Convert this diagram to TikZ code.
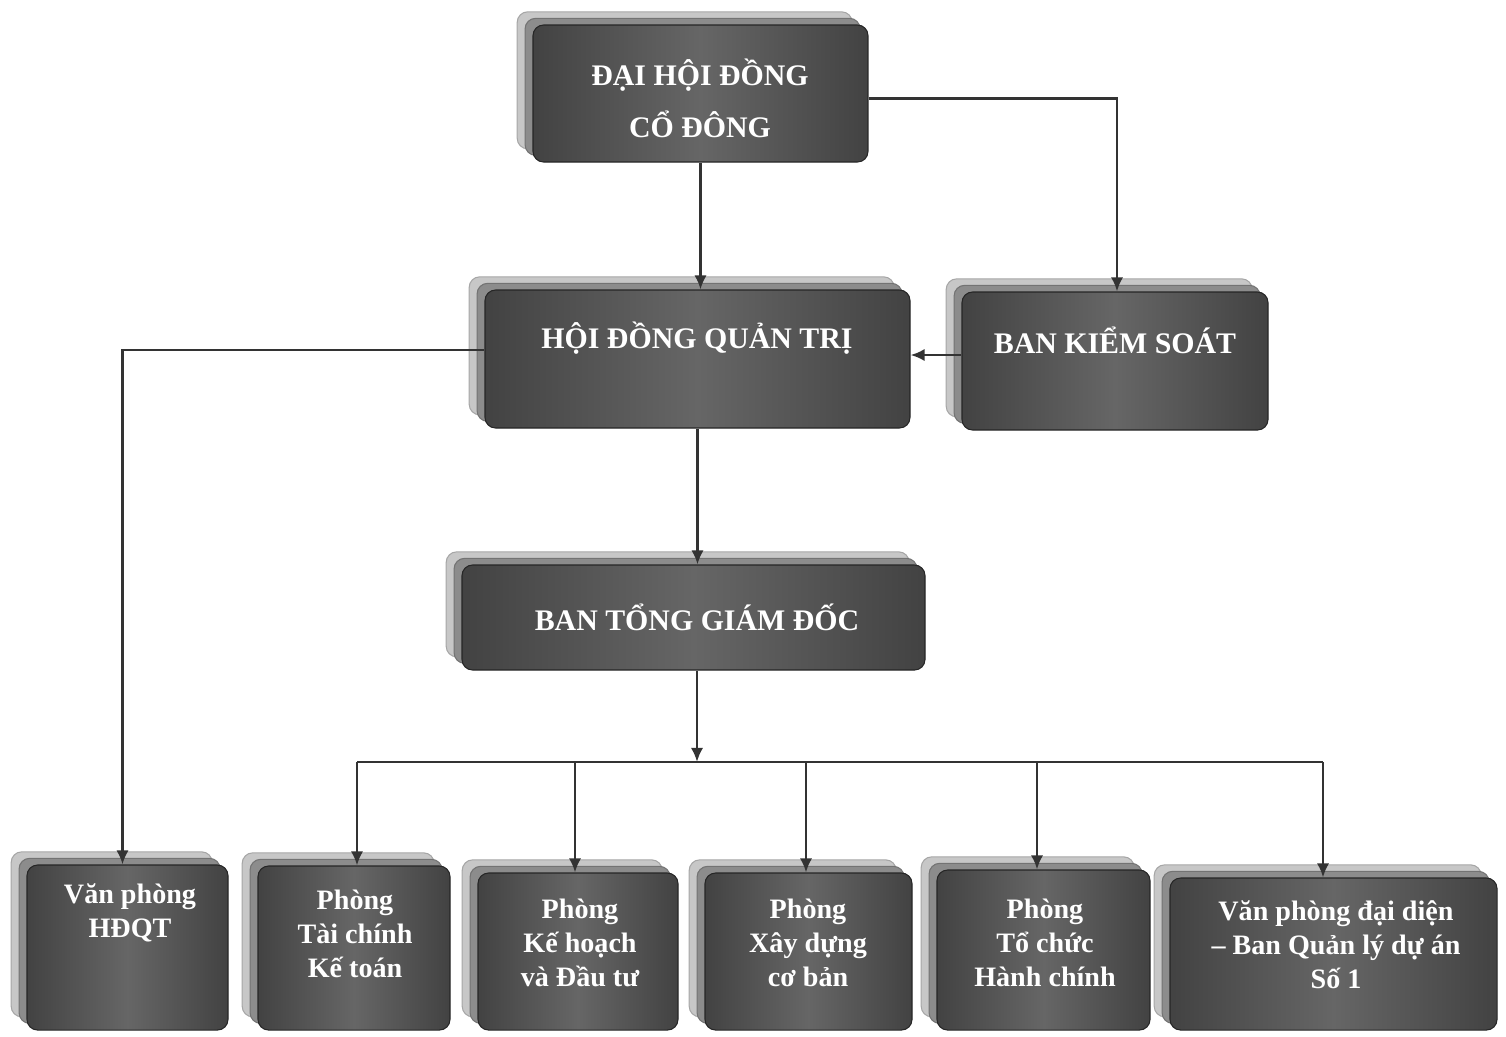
\documentclass[tikz,border=0pt]{standalone}
\usepackage{fontspec}
\setmainfont{Liberation Serif}
\usetikzlibrary{shadows,calc,arrows.meta}
\begin{document}
\begin{tikzpicture}[x=0.02cm,y=-0.02cm,
  box/.style={draw=black!85, line width=0.6pt, rounded corners=6pt,
    left color=black!74, right color=black!74, middle color=black!60,
    general shadow={fill=black!22, draw=black!35, shadow xshift=-9pt, shadow yshift=7.5pt},
    general shadow={fill=black!45, draw=black!55, shadow xshift=-4.5pt, shadow yshift=3.8pt}},
  bigtxt/.style={text=white, font=\bfseries\fontsize{17}{29.5}\selectfont, align=center},
  smalltxt/.style={text=white, font=\bfseries\fontsize{16}{19.3}\selectfont, align=center},
  conn/.style={draw=black!80, line width=1.5pt, -{Latex[length=8pt,width=7pt]}},
  line/.style={draw=black!80, line width=1.5pt}]
\useasboundingbox (0,0) rectangle (1506,1036);
% boxes
\node[box, minimum width=335*0.02cm, minimum height=137*0.02cm] (top) at (700.5,93.5) {};
\node[box, minimum width=425*0.02cm, minimum height=138*0.02cm] (hdqt) at (697.5,359) {};
\node[box, minimum width=306*0.02cm, minimum height=138*0.02cm] (bks) at (1115,361) {};
\node[box, minimum width=463*0.02cm, minimum height=105*0.02cm] (btgd) at (693.5,617.5) {};
\node[box, minimum width=201*0.02cm, minimum height=165*0.02cm] (b1) at (127.5,947.5) {};
\node[box, minimum width=192*0.02cm, minimum height=164*0.02cm] (b2) at (354,948) {};
\node[box, minimum width=200*0.02cm, minimum height=157*0.02cm] (b3) at (578,951.5) {};
\node[box, minimum width=207*0.02cm, minimum height=157*0.02cm] (b4) at (808.5,951.5) {};
\node[box, minimum width=213*0.02cm, minimum height=160*0.02cm] (b5) at (1043.5,950) {};
\node[box, minimum width=327*0.02cm, minimum height=152*0.02cm] (b6) at (1333.5,954) {};
% texts
\node[bigtxt] (ttop) at (700,98) {ĐẠI HỘI ĐỒNG\\CỔ ĐÔNG};
\node[bigtxt] (thdqt) at (697,338) {HỘI ĐỒNG QUẢN TRỊ};
\node[bigtxt] (tbks) at (1115,340) {BAN KIỂM SOÁT};
\node[bigtxt] (tbtgd) at (697,617) {BAN TỔNG GIÁM ĐỐC};
\node[smalltxt] (t1) at (130,913) {Văn phòng\\HĐQT};
\node[smalltxt] (t2) at (355,934) {Phòng\\Tài chính\\Kế toán};
\node[smalltxt] (t3) at (580,943) {Phòng\\Kế hoạch\\và Đầu tư};
\node[smalltxt] (t4) at (808,943) {Phòng\\Xây dựng\\cơ bản};
\node[smalltxt] (t5) at (1045,943) {Phòng\\Tổ chức\\Hành chính};
\node[smalltxt] (t6) at (1336,945) {Văn phòng đại diện\\– Ban Quản lý dự án\\Số 1};
% connectors
\draw[conn] (top.south) -- (top.south |- hdqt.north);
\draw[conn] ($(top.east)+(0,5)$) -| ($(bks.north)+(2,0)$);
\coordinate (bksin) at ($(bks.west)+(0,-6)$);
\draw[conn] (bksin) -- (bksin -| hdqt.east);
\draw[conn] ($(hdqt.west)+(0,-9)$) -| ($(b1.north)+(-5,0)$);
\draw[conn] (hdqt.south) -- (hdqt.south |- btgd.north);
\coordinate (bar) at (697,762);
\coordinate (d2) at (357,762);
\coordinate (d3) at (575,762);
\coordinate (d4) at (806,762);
\coordinate (d5) at (1037,762);
\coordinate (d6) at (1323,762);
\draw[conn] (btgd.south -| bar) -- (bar);
\draw[line] (d2) -- (d6);
\draw[conn] (d2) -- (d2 |- b2.north);
\draw[conn] (d3) -- (d3 |- b3.north);
\draw[conn] (d4) -- (d4 |- b4.north);
\draw[conn] (d5) -- (d5 |- b5.north);
\draw[conn] (d6) -- (d6 |- b6.north);
\end{tikzpicture}
\end{document}
